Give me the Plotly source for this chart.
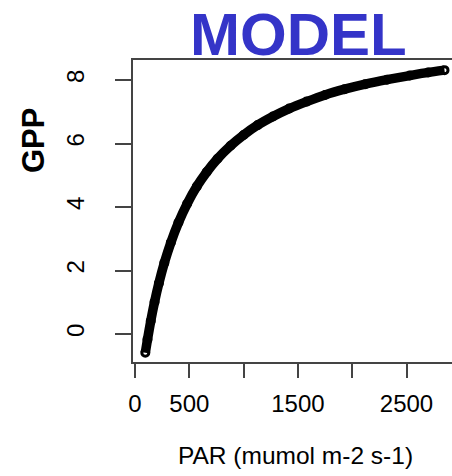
import plotly.graph_objects as go

# Modelled light-response curve: GPP against photosynthetically active radiation
par = [95, 115, 145, 180, 220, 270, 330, 400, 480, 570, 660, 760, 880, 1000,
       1130, 1270, 1420, 1580, 1750, 1930, 2120, 2320, 2530, 2700, 2850]
gpp = [-0.59, -0.17, 0.41, 1.01, 1.60, 2.24, 2.88, 3.51, 4.10, 4.65, 5.10, 5.52,
       5.93, 6.27, 6.58, 6.85, 7.10, 7.32, 7.53, 7.71, 7.87, 8.01, 8.14, 8.24, 8.31]

x_tick_vals = [0, 500, 1000, 1500, 2000, 2500]
x_tick_text = ["0", "500", "", "1500", "", "2500"]
y_tick_vals = [0, 2, 4, 6, 8]
y_tick_text = ["0", "2", "4", "6", "8"]

FONT = "Liberation Sans, Arial, Helvetica, sans-serif"
AXIS_COLOR = "#444444"

fig = go.Figure()
fig.add_trace(go.Scatter(
    x=par, y=gpp,
    mode="lines+markers",
    line=dict(color="black", width=9.5, shape="spline", smoothing=0.6),
    marker=dict(symbol="circle-open", size=7, color="black",
                line=dict(color="black", width=3)),
    hoverinfo="x+y",
))

fig.update_layout(
    width=452, height=476,
    margin=dict(l=133, r=0, t=60, b=114),
    paper_bgcolor="white", plot_bgcolor="white",
    showlegend=False,
    font=dict(family=FONT, color="black"),
    xaxis=dict(
        range=[-18.4, 2919],
        tickmode="array", tickvals=x_tick_vals, ticktext=x_tick_text,
        ticks="outside", ticklen=14, tickwidth=1.5, tickcolor=AXIS_COLOR,
        showline=True, linecolor=AXIS_COLOR, linewidth=1.5, mirror=True,
        showgrid=False, zeroline=False,
        tickfont=dict(size=24, family=FONT, color="black"),
        ticklabelstandoff=5,
    ),
    yaxis=dict(
        range=[-0.882, 8.63],
        tickmode="array", tickvals=y_tick_vals, ticktext=y_tick_text,
        tickangle=-90,
        ticks="outside", ticklen=16, tickwidth=1.5, tickcolor=AXIS_COLOR,
        showline=True, linecolor=AXIS_COLOR, linewidth=1.5, mirror=False,
        showgrid=False, zeroline=False,
        tickfont=dict(size=24, family=FONT, color="black"),
        ticklabelstandoff=22,
    ),
    annotations=[
        dict(text="<b>MODEL</b>", x=0.519, y=1.1987, xref="paper", yref="paper",
             xanchor="center", yanchor="top", showarrow=False, borderpad=0,
             font=dict(size=60, color="#3434C8", family=FONT)),
        dict(text="<b>GPP</b>", x=-0.310, y=0.732, xref="paper", yref="paper",
             xanchor="center", yanchor="middle", showarrow=False, textangle=-90,
             font=dict(size=31, color="black", family=FONT)),
        dict(text="PAR (mumol m-2 s-1)", x=0.508, y=-0.308, xref="paper", yref="paper",
             xanchor="center", yanchor="middle", showarrow=False,
             font=dict(size=24.5, color="black", family=FONT)),
    ],
)

fig.write_html("out.html")
